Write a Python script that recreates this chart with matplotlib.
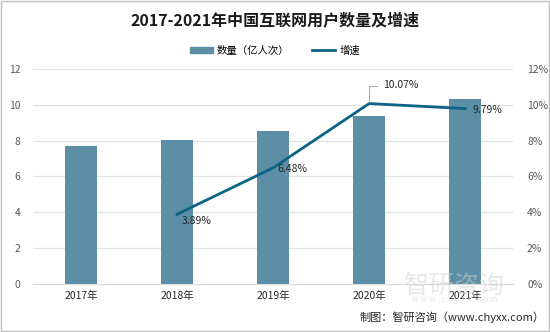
import matplotlib
matplotlib.use("Agg")
import matplotlib.pyplot as plt
from matplotlib.patches import Rectangle

plt.rcParams['font.family'] = ['Noto Sans CJK SC', 'DejaVu Sans']

# data
years = ['2017年', '2018年', '2019年', '2020年', '2021年']
users = [7.72, 8.02, 8.54, 9.40, 10.32]        # 亿人次
growth_years = [1, 2, 3, 4]
growth = [3.89, 6.48, 10.07, 9.79]            # %
growth_labels = ['3.89%', '6.48%', '10.07%', '9.79%']

bar_color = '#5C8FA6'
line_color = '#0B6385'
tick_color = '#595959'

fig = plt.figure(figsize=(5.5, 3.32), dpi=100)
ax = fig.add_axes([0.06, 0.1446, 0.873, 0.6476])
ax2 = ax.twinx()

x = list(range(len(years)))
ax.bar(x, users, width=0.33, color=bar_color, zorder=2, label='数量（亿人次）')
ax.set_xlim(-0.5, 4.5)
ax.set_ylim(0, 12)
ax.set_yticks(range(0, 13, 2))
ax.set_xticks(x)
ax.set_xticklabels(years, fontsize=7.5, color='#262626')
ax.tick_params(axis='y', labelsize=7.5, colors=tick_color, length=0, pad=9)
ax.tick_params(axis='x', length=0, pad=5)
ax.grid(axis='y', color='#E3E3E3', linewidth=0.9, zorder=0)
for s in ax.spines.values():
    s.set_visible(False)
ax.spines['bottom'].set_visible(True)
ax.spines['bottom'].set_color('#D9D9D9')

ln, = ax2.plot(growth_years, growth, color=line_color, linewidth=2, zorder=3, label='增速')
ax2.set_ylim(0, 12)
ax2.set_yticks(range(0, 13, 2))
ax2.set_yticklabels([f'{v}%' for v in range(0, 13, 2)])
ax2.tick_params(axis='y', labelsize=7.5, colors=tick_color, length=0, pad=10)
for s in ax2.spines.values():
    s.set_visible(False)

offsets = [(3, -5), (3, -1), (10, 10), (5, -1)]
for xi, yi, lab, off in zip(growth_years, growth, growth_labels, offsets):
    ax2.annotate(lab, (xi, yi), xytext=off, textcoords='offset points',
                 fontsize=7.5, color='#262626', ha='left', va='bottom' if off[1] > 5 else 'center')
# leader line for 10.07%
ax2.annotate('', (growth_years[2], growth[2]), xytext=(8, 13), textcoords='offset points',
             arrowprops=dict(arrowstyle='-', color='#A6A6A6', lw=0.7,
                             connectionstyle='angle,angleA=0,angleB=90,rad=0'))

fig.text(0.5, 0.935, '2017-2021年中国互联网用户数量及增速', ha='center', va='center',
         fontsize=11.5, fontweight='bold', color='#1A1A1A')

handles = [Rectangle((0, 0), 1, 1, color=bar_color), ln]
fig.legend(handles, ['数量（亿人次）', '增速'], loc='center', bbox_to_anchor=(0.5, 0.848),
           ncol=2, frameon=False, fontsize=7.5, handlelength=2.2, handleheight=0.6,
           columnspacing=2.2, handletextpad=0.4)

# watermark
fig.text(0.735, 0.14, '智研咨询', fontsize=18, color='#D0D0D0', alpha=0.5, ha='left', va='center')
fig.text(0.75, 0.098, 'w w w . c h y x x . c o m', fontsize=6, color='#D0D0D0', alpha=0.5,
         ha='left', va='center')
fig.text(0.99, 0.045, '制图：智研咨询（www.chyxx.com）', fontsize=8, color='#262626',
         ha='right', va='center')

fig.patches.append(Rectangle((0.002, 0.003), 0.996, 0.994, transform=fig.transFigure,
                             fill=False, edgecolor='#BFBFBF', linewidth=1))

fig.savefig('out.png', dpi=100)
